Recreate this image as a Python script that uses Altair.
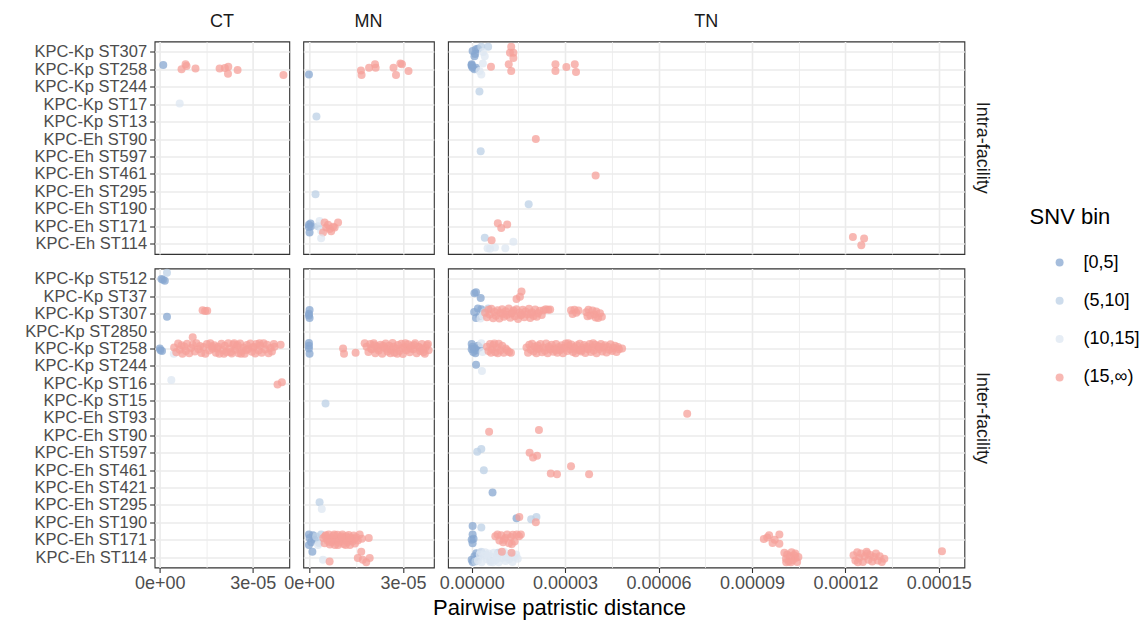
import altair as alt
import pandas as pd

FONT = "Liberation Sans"
BINS = ["[0,5]", "(5,10]", "(10,15]", "(15,∞)"]
BIN_COLORS = ["#87A7D0", "#BCD0E6", "#DEE7F2", "#F5A09A"]
SITES = ["CT", "MN", "TN"]
FACILITIES = ["Intra-facility", "Inter-facility"]

INTRA_CATS = ["KPC-Kp ST307", "KPC-Kp ST258", "KPC-Kp ST244", "KPC-Kp ST17", "KPC-Kp ST13",
              "KPC-Eh ST90", "KPC-Eh ST597", "KPC-Eh ST461", "KPC-Eh ST295", "KPC-Eh ST190",
              "KPC-Eh ST171", "KPC-Eh ST114"]
INTER_CATS = ["KPC-Kp ST512", "KPC-Kp ST37", "KPC-Kp ST307", "KPC-Kp ST2850", "KPC-Kp ST258",
              "KPC-Kp ST244", "KPC-Kp ST16", "KPC-Kp ST15", "KPC-Eh ST93", "KPC-Eh ST90",
              "KPC-Eh ST597", "KPC-Eh ST461", "KPC-Eh ST421", "KPC-Eh ST295", "KPC-Eh ST190",
              "KPC-Eh ST171", "KPC-Eh ST114"]

# x domains (free x per column) and tick values
X_DOMAIN = {"CT": [-1.7e-6, 41.8e-6], "MN": [-1.8e-6, 39.9e-6], "TN": [-7.6e-6, 158.2e-6]}
X_MAJOR = {"CT": [0, 3e-5], "MN": [0, 3e-5], "TN": [0, 3e-5, 6e-5, 9e-5, 1.2e-4, 1.5e-4]}
X_MINOR = {"CT": [1.5e-5], "MN": [1.5e-5], "TN": [1.5e-5, 4.5e-5, 7.5e-5, 1.05e-4, 1.35e-4]}

# points: (category, SNV bin index, distance in 1e-6, vertical jitter in category units)
ct_intra = [
    ("KPC-Kp ST258", 0, [(1.1, 0.25)]),
    ("KPC-Kp ST258", 3, [(7.0, 0.0), (8.3, 0.3), (8.6, 0.2), (11.5, 0.05), (19.3, 0.05), (22.1, 0.15),
                         (22.0, -0.25), (25.1, -0.04), (21.0, 0.08), (39.9, -0.33)]),
    ("KPC-Kp ST17", 2, [(6.4, 0.04)]),
]

mn_intra = [
    ("KPC-Kp ST258", 0, [(0.0, -0.29)]),
    ("KPC-Kp ST258", 3, [(16.6, -0.06), (16.8, -0.33), (19.2, 0.09), (21.1, 0.29), (21.3, 0.09), (27.0, 0.09),
                         (29.2, 0.34), (29.7, 0.3), (27.8, -0.33), (31.8, -0.1)]),
    ("KPC-Kp ST13", 1, [(2.4, 0.29)]),
    ("KPC-Eh ST295", 1, [(2.1, -0.17)]),
    ("KPC-Eh ST171", 0, [(0.0, 0.08), (0.7, 0.0), (0.2, -0.36), (0.5, 0.15), (0.0, -0.05)]),
    ("KPC-Eh ST171", 1, [(2.9, 0.0)]),
    ("KPC-Eh ST171", 2, [(3.4, 0.3), (3.9, -0.27)]),
    ("KPC-Eh ST171", 3, [(5.0, 0.21), (5.5, -0.08), (6.6, -0.17), (7.7, -0.04), (9.3, 0.21), (4.5, -0.36),
                         (7.1, -0.3), (8.2, -0.08), (6.1, 0.08)]),
    ("KPC-Eh ST114", 2, [(3.9, 0.3)]),
]

tn_intra = [
    ("KPC-Kp ST307", 0, [(0.3, 0.06), (1.4, 0.15), (2.0, 0.19), (0.9, -0.25), (1.1, -0.12)]),
    ("KPC-Kp ST307", 1, [(3.1, 0.3), (5.3, 0.3)]),
    ("KPC-Kp ST307", 2, [(4.2, -0.25), (3.6, 0.0)]),
    ("KPC-Kp ST307", 3, [(12.7, 0.3), (12.3, -0.04), (13.4, -0.04), (13.4, -0.35)]),
    ("KPC-Kp ST258", 0, [(0.0, 0.3), (0.0, 0.19), (0.3, 0.1), (0.9, 0.0), (0.0, 0.25), (1.4, 0.1)]),
    ("KPC-Kp ST258", 2, [(3.1, -0.3), (2.5, -0.1), (3.6, 0.33)]),
    ("KPC-Kp ST258", 3, [(6.2, 0.15), (11.9, 0.3), (12.7, -0.1), (26.9, 0.3), (26.9, -0.1), (30.4, 0.13),
                         (33.1, 0.3), (33.5, -0.15)]),
    ("KPC-Kp ST244", 1, [(2.5, -0.27)]),
    ("KPC-Eh ST90", 3, [(20.6, 0.0)]),
    ("KPC-Eh ST597", 1, [(2.9, 0.3)]),
    ("KPC-Eh ST461", 3, [(39.8, -0.1)]),
    ("KPC-Eh ST190", 1, [(18.3, 0.25)]),
    ("KPC-Eh ST171", 3, [(8.4, 0.17), (9.5, -0.11), (11.4, 0.1)]),
    ("KPC-Eh ST114", 1, [(4.2, 0.34)]),
    ("KPC-Eh ST114", 2, [(13.4, 0.11), (5.1, -0.27), (7.5, -0.23), (10.8, -0.27), (5.9, -0.3)]),
    ("KPC-Eh ST114", 3, [(6.4, 0.19), (122.4, 0.38), (126.0, 0.29), (125.1, -0.1)]),
]

ct_inter = [
    ("KPC-Kp ST512", 0, [(0.5, 0.0), (1.6, -0.1), (1.0, -0.05)]),
    ("KPC-Kp ST512", 1, [(2.3, 0.35)]),
    ("KPC-Kp ST307", 0, [(2.3, -0.17)]),
    ("KPC-Kp ST307", 3, [(13.8, 0.2), (15.3, 0.17), (14.6, 0.15)]),
    ("KPC-Kp ST2850", 3, [(10.6, -0.35)]),
    ("KPC-Kp ST258", 0, [(0.2, -0.1), (0.7, -0.15), (0.0, 0.0)]),
    ("KPC-Kp ST258", 2, [(4.5, -0.3)]),
    ("KPC-Kp ST258", 3, [
        (4.6, 0.05), (5.3, -0.22), (5.9, 0.28), (6.4, -0.08), (7.0, 0.18), (7.3, -0.3), (7.9, 0.12), (8.4, -0.15),
        (8.8, 0.27), (9.5, -0.28), (10.1, 0.02), (10.6, 0.22), (11.3, -0.18), (11.8, 0.3), (12.5, -0.05),
        (13.0, 0.14), (13.4, -0.26), (14.1, 0.08), (14.7, -0.3), (15.2, 0.25), (15.9, -0.12), (16.3, 0.3),
        (17.0, -0.02), (17.6, 0.19), (18.1, -0.25), (18.8, 0.1), (19.2, -0.3), (19.9, 0.27), (20.4, -0.1),
        (21.0, 0.16), (21.5, -0.21), (22.1, 0.3), (22.6, 0.0), (23.2, -0.29), (23.7, 0.23), (24.3, -0.07),
        (24.8, 0.12), (25.4, -0.27), (25.9, 0.29), (26.5, -0.14), (27.0, 0.06), (27.4, -0.3), (28.1, 0.2),
        (28.6, -0.03), (29.2, 0.28), (29.7, -0.19), (30.3, 0.09), (30.8, -0.29), (31.2, 0.26), (31.9, -0.11),
        (32.4, 0.15), (32.9, -0.24), (33.5, 0.3), (34.0, -0.06), (34.6, 0.21), (35.1, -0.28), (35.7, 0.03),
        (36.2, -0.17), (36.8, 0.25), (37.0, 0.1), (22.9, -0.2), (25.1, 0.2), (27.8, -0.1), (30.0, 0.05),
        (18.5, 0.0), (20.7, -0.3), (32.2, 0.3), (24.0, 0.3), (26.2, -0.3), (16.8, 0.11), (39.0, 0.21)]),
    ("KPC-Kp ST16", 2, [(3.7, 0.19)]),
    ("KPC-Kp ST16", 3, [(38.0, -0.08), (39.4, 0.06)]),
]

mn_inter = [
    ("KPC-Kp ST307", 0, [(0.2, 0.21), (0.0, 0.0), (0.2, -0.25), (0.0, -0.1)]),
    ("KPC-Kp ST258", 0, [(0.0, 0.31), (0.0, 0.0), (0.2, -0.3), (0.0, 0.15)]),
    ("KPC-Kp ST258", 3, [
        (10.9, 0.0), (11.2, -0.3), (14.9, -0.25), (17.8, 0.3),
        (18.4, 0.1), (19.0, -0.2), (19.6, 0.25), (20.1, -0.05), (20.7, 0.3), (21.2, -0.28), (21.8, 0.12),
        (22.3, -0.12), (22.9, 0.22), (23.4, -0.3), (24.0, 0.05), (24.5, 0.28), (25.1, -0.18), (25.6, 0.15),
        (26.2, -0.08), (26.7, 0.32), (27.3, -0.25), (27.8, 0.0), (28.4, 0.2), (28.9, -0.15), (29.5, 0.27),
        (30.0, -0.32), (30.6, 0.08), (31.1, -0.1), (31.7, 0.24), (32.2, -0.22), (32.8, 0.14), (33.3, -0.04),
        (33.9, 0.3), (34.4, -0.27), (35.0, 0.1), (35.5, -0.14), (36.1, 0.26), (36.6, -0.2), (37.2, 0.04),
        (37.7, 0.18), (38.2, -0.1), (19.8, 0.0), (22.0, 0.0), (24.8, -0.02), (27.0, 0.1), (29.9, 0.02),
        (32.5, 0.0), (35.3, 0.05), (37.0, -0.3), (21.0, 0.18), (23.7, 0.15), (26.0, -0.28), (28.2, -0.3),
        (30.8, 0.3), (33.6, 0.2), (36.3, -0.05), (38.0, 0.25)]),
    ("KPC-Kp ST15", 1, [(5.3, -0.17)]),
    ("KPC-Eh ST295", 1, [(3.4, 0.15)]),
    ("KPC-Eh ST295", 2, [(4.1, -0.23)]),
    ("KPC-Eh ST171", 0, [(0.0, 0.3), (0.2, 0.1), (0.7, -0.15), (0.0, -0.3), (1.3, 0.25), (1.8, 0.0)]),
    ("KPC-Eh ST171", 1, [(2.3, 0.19), (3.2, -0.19), (3.9, 0.3)]),
    ("KPC-Eh ST171", 2, [(2.9, -0.3)]),
    ("KPC-Eh ST171", 3, [
        (4.6, 0.1), (5.0, -0.2), (5.4, 0.25), (5.9, -0.05), (6.3, 0.3), (6.7, -0.28), (7.1, 0.12), (7.5, -0.12),
        (7.9, 0.22), (8.3, -0.3), (8.7, 0.05), (9.1, 0.28), (9.5, -0.18), (9.9, 0.15), (10.3, -0.08),
        (10.7, 0.3), (11.1, -0.25), (11.5, 0.0), (11.9, 0.2), (12.3, -0.15), (12.7, 0.27), (13.1, -0.3),
        (13.5, 0.08), (13.9, -0.1), (14.3, 0.24), (14.7, -0.22), (15.1, 0.14), (15.6, -0.04), (16.2, 0.3),
        (16.9, 0.05), (6.0, 0.05), (7.3, 0.0), (8.5, -0.02), (9.7, 0.02), (10.9, 0.1), (12.1, -0.02),
        (13.3, 0.0), (14.5, 0.05), (5.2, 0.2), (6.9, -0.15), (8.1, 0.3), (9.3, -0.3), (10.5, 0.2),
        (11.7, -0.3), (12.9, 0.12), (19.1, 0.1)]),
    ("KPC-Eh ST114", 0, [(1.1, 0.3)]),
    ("KPC-Eh ST114", 2, [(4.5, -0.15)]),
    ("KPC-Eh ST114", 3, [(6.6, -0.25), (16.7, 0.3), (15.6, -0.06), (17.2, -0.15), (19.4, -0.06), (18.3, -0.3)]),
]

tn_inter = [
    ("KPC-Kp ST37", 0, [(0.9, 0.17), (1.4, 0.23), (2.9, -0.1)]),
    ("KPC-Kp ST37", 3, [(16.0, 0.27), (14.4, -0.15), (15.5, -0.02)]),
    ("KPC-Kp ST307", 0, [(2.0, 0.3), (3.1, 0.25), (1.4, -0.25), (2.5, -0.15), (0.8, 0.1)]),
    ("KPC-Kp ST307", 1, [(5.3, 0.3), (4.0, 0.1)]),
    ("KPC-Kp ST307", 2, [(3.6, -0.1), (2.8, -0.28)]),
    ("KPC-Kp ST307", 3, [
        (4.3, 0.05), (4.9, -0.2), (5.4, 0.22), (5.8, -0.05), (6.3, 0.28), (6.9, -0.26), (7.4, 0.1), (7.8, -0.12),
        (8.3, 0.2), (8.9, -0.28), (9.3, 0.04), (9.8, 0.25), (10.4, -0.17), (10.9, 0.14), (11.3, -0.07),
        (11.9, 0.3), (12.4, -0.23), (12.8, 0.0), (13.4, 0.19), (13.9, -0.14), (14.4, 0.26), (14.9, -0.3),
        (15.4, 0.07), (15.8, -0.09), (16.4, 0.23), (16.9, -0.2), (17.3, 0.13), (17.9, -0.03), (18.4, 0.28),
        (18.8, -0.25), (19.4, 0.09), (19.9, -0.13), (20.4, 0.24), (20.9, -0.18), (21.3, 0.03), (21.9, 0.17),
        (22.5, -0.08), (23.1, 0.2), (23.8, 0.25), (24.6, 0.22), (25.2, 0.24), (10.1, 0.0), (13.1, 0.05),
        (16.1, -0.05), (19.1, 0.0),
        (31.9, 0.2), (32.4, -0.02), (33.0, 0.22), (33.6, 0.05), (34.3, 0.18), (36.8, 0.08), (37.5, 0.22),
        (38.1, -0.1), (38.8, 0.18), (39.4, -0.05), (40.0, 0.12), (40.6, -0.25), (41.2, 0.03), (41.8, -0.18),
        (37.2, -0.15), (39.8, -0.22)]),
    ("KPC-Kp ST258", 0, [(0.0, 0.25), (0.3, 0.1), (0.8, 0.0), (1.5, -0.1), (0.5, -0.2), (2.0, 0.15), (1.2, -0.28),
                         (0.0, -0.05), (2.5, 0.05)]),
    ("KPC-Kp ST258", 2, [(3.1, 0.3), (3.5, -0.2)]),
    ("KPC-Kp ST258", 3, [
        (4.9, 0.1), (5.4, -0.15), (5.9, 0.25), (6.5, -0.05), (7.0, 0.2), (7.6, -0.22), (8.1, 0.05), (8.7, 0.27),
        (9.2, -0.12), (9.8, 0.15), (10.3, -0.25), (10.9, 0.0), (11.4, -0.1), (12.0, -0.2), (12.6, -0.25),
        (6.2, -0.25), (7.3, 0.28), (8.4, -0.28),
        (17.6, 0.05), (18.1, -0.25), (18.5, 0.22), (19.0, -0.08), (19.4, 0.27), (19.9, -0.18), (20.3, 0.1),
        (20.8, -0.28), (21.2, 0.17), (21.7, -0.02), (22.1, 0.25), (22.6, -0.22), (23.0, 0.06), (23.5, -0.13),
        (23.9, 0.28), (24.4, -0.27), (24.8, 0.12), (25.3, -0.06), (25.7, 0.21), (26.2, -0.19), (26.6, 0.0),
        (27.1, 0.26), (27.5, -0.24), (28.0, 0.09), (28.4, -0.1), (28.9, 0.19), (29.3, -0.28), (29.8, 0.04),
        (30.2, 0.28), (30.7, -0.15), (31.1, 0.14), (31.6, -0.04), (32.0, 0.23), (32.5, -0.21), (32.9, 0.08),
        (33.4, -0.27), (33.8, 0.18), (34.3, -0.09), (34.7, 0.27), (35.2, -0.17), (35.6, 0.02), (36.1, 0.2),
        (36.5, -0.26), (37.0, 0.11), (37.4, -0.05), (37.9, 0.25), (38.3, -0.2), (38.8, 0.07), (39.2, -0.12),
        (39.7, 0.22), (40.1, -0.27), (40.6, 0.13), (41.0, -0.03), (41.5, 0.26), (41.9, -0.18), (42.4, 0.05),
        (42.8, 0.19), (43.3, -0.23), (43.7, 0.1), (44.2, -0.08), (44.6, 0.24), (45.1, -0.15), (45.5, 0.03),
        (46.0, 0.16), (46.5, -0.2), (47.0, 0.08), (47.3, -0.05), (48.3, 0.0), (21.0, 0.0), (25.0, 0.0),
        (29.0, 0.0), (33.0, 0.0), (37.0, 0.0), (41.0, 0.1), (27.0, -0.1), (35.0, -0.1), (31.0, 0.3), (39.0, 0.3)]),
    ("KPC-Kp ST244", 0, [(1.4, 0.06)]),
    ("KPC-Kp ST244", 2, [(3.3, -0.3)]),
    ("KPC-Eh ST93", 3, [(69.2, 0.25)]),
    ("KPC-Eh ST90", 3, [(5.6, 0.21), (21.6, 0.31)]),
    ("KPC-Eh ST597", 1, [(1.8, 0.06), (3.1, 0.21)]),
    ("KPC-Eh ST597", 3, [(18.6, 0.0), (19.7, -0.27), (21.0, -0.17)]),
    ("KPC-Eh ST461", 1, [(3.9, 0.0)]),
    ("KPC-Eh ST461", 3, [(31.9, 0.23), (25.4, -0.19), (27.4, -0.23), (37.7, -0.23)]),
    ("KPC-Eh ST421", 0, [(6.7, -0.29)]),
    ("KPC-Eh ST190", 0, [(0.3, -0.21), (14.4, 0.23)]),
    ("KPC-Eh ST190", 1, [(3.1, -0.3), (19.1, 0.17), (20.8, 0.3)]),
    ("KPC-Eh ST190", 3, [(15.3, 0.3), (20.6, 0.0)]),
    ("KPC-Eh ST171", 0, [(0.3, 0.3), (0.0, 0.0), (0.3, -0.2), (0.6, 0.05)]),
    ("KPC-Eh ST171", 3, [
        (7.6, 0.2), (8.3, 0.3), (8.9, -0.05), (9.5, 0.25), (10.1, -0.15), (10.8, 0.1), (11.4, 0.3), (12.0, -0.2),
        (12.6, 0.15), (13.2, 0.28), (13.8, -0.1), (14.5, 0.3), (15.2, 0.2), (15.8, 0.3), (10.4, 0.0),
        (12.9, -0.25),
        (93.8, 0.04), (95.5, 0.25), (98.8, 0.3), (96.6, -0.19), (98.8, -0.23), (94.9, 0.12), (97.3, 0.0)]),
    ("KPC-Eh ST114", 0, [(0.0, -0.15), (0.9, 0.05), (2.0, 0.0), (3.1, 0.27), (1.5, 0.22), (0.3, -0.28)]),
    ("KPC-Eh ST114", 1, [(4.5, 0.1), (6.0, -0.2), (8.5, 0.25), (1.2, -0.25)]),
    ("KPC-Eh ST114", 2, [
        (2.0, -0.2), (2.6, 0.15), (3.2, -0.3), (3.7, 0.05), (4.3, 0.28), (4.9, -0.12), (5.4, 0.2), (6.0, -0.28),
        (6.5, 0.0), (7.1, 0.25), (7.6, -0.18), (8.2, 0.1), (8.7, -0.3), (9.3, 0.18), (9.8, -0.05), (10.4, 0.3),
        (10.9, -0.22), (11.5, 0.08), (12.0, -0.12), (12.6, 0.22), (13.1, -0.28), (13.7, 0.0), (14.3, 0.15),
        (14.8, -0.1), (5.0, 0.1), (8.0, -0.1), (11.0, 0.0), (3.0, 0.3), (6.8, -0.3)]),
    ("KPC-Eh ST114", 3, [
        (9.7, 0.3), (12.8, 0.25),
        (100.4, 0.25), (100.9, -0.1), (101.3, 0.15), (101.8, -0.25), (102.2, 0.05), (102.7, 0.28),
        (103.1, -0.18), (103.6, 0.1), (104.0, -0.05), (104.5, -0.28), (104.9, 0.0), (101.0, -0.3),
        (102.5, -0.3), (103.9, 0.2),
        (122.6, 0.1), (123.2, -0.2), (123.8, 0.28), (124.4, -0.05), (125.0, 0.2), (125.6, -0.28),
        (126.2, 0.05), (126.8, 0.3), (127.4, -0.15), (128.0, 0.12), (128.6, -0.25), (129.2, 0.0),
        (129.8, 0.2), (130.4, -0.2), (131.0, 0.05), (131.7, -0.28), (132.5, -0.1), (124.0, -0.3),
        (127.0, 0.2), (151.0, 0.33)]),
]

PANEL_DATA = {
    ("CT", "Intra-facility"): ct_intra, ("MN", "Intra-facility"): mn_intra, ("TN", "Intra-facility"): tn_intra,
    ("CT", "Inter-facility"): ct_inter, ("MN", "Inter-facility"): mn_inter, ("TN", "Inter-facility"): tn_inter,
}

# ---- layout / style ----
PANEL_W = {"CT": 134.7, "MN": 130.6, "TN": 516.4}
PANEL_H = {"Intra-facility": 212.5, "Inter-facility": 299}
GRID = "#EBEBEB"
MINOR_TEST = "abs(datum.value / 0.00003 - round(datum.value / 0.00003)) > 0.25"
POINT_OPACITY = 0.75
Y_LABEL_SIZE = 16.5

LEGEND = alt.Legend(
    title="SNV bin", orient="none", legendX=875, legendY=165,
    titleFont=FONT, titleFontSize=22, titleFontWeight="normal", titleColor="black", titlePadding=25,
    labelFont=FONT, labelFontSize=18, labelColor="black", labelOffset=15,
    symbolType="circle", symbolSize=64, symbolOpacity=POINT_OPACITY, symbolStrokeWidth=0, symbolOffset=21,
    rowPadding=20.3,
)


def build_df(items, site, fac):
    cats = INTRA_CATS if fac == "Intra-facility" else INTER_CATS
    n = len(cats)
    rows = []
    for cat, b, pts in items:
        pos = n - cats.index(cat)
        for x, dy in pts:
            rows.append({"site": site, "facility": fac, "cat": cat, "bin": BINS[b],
                         "x": x * 1e-6, "y": pos + dy})
    return pd.DataFrame(rows)


def make_panel(site, fac):
    cats = INTRA_CATS if fac == "Intra-facility" else INTER_CATS
    n = len(cats)
    sub = build_df(PANEL_DATA[(site, fac)], site, fac)
    bottom = fac == "Inter-facility"
    left = site == "CT"
    w, h = PANEL_W[site], PANEL_H[fac]

    if site == "TN":
        lbl = "format(datum.value, '.5f')"
    else:
        lbl = "replace(replace(format(datum.value, '.0e'), 'e-', 'e-0'), 'e+', 'e+0')"
    xk = dict(values=X_MAJOR[site] + X_MINOR[site], grid=True, domain=False, title=None,
              gridColor=GRID,
              gridWidth={"condition": {"test": MINOR_TEST, "value": 0.8}, "value": 1.6},
              labelFlush=False, labelOverlap=False)
    if bottom:
        xk.update(labels=True, ticks=True, labelExpr=f"({MINOR_TEST}) ? '' : {lbl}",
                  tickOpacity={"condition": {"test": MINOR_TEST, "value": 0}, "value": 1},
                  tickSize=5, labelPadding=2)
    else:
        xk.update(labels=False, ticks=False)

    arr = "[" + ",".join(f"'{c}'" for c in reversed(cats)) + "]"
    yk = dict(values=list(range(1, n + 1)), grid=True, gridColor=GRID, gridWidth=1.6,
              domain=False, title=None, labels=left, ticks=left, tickSize=5,
              labelExpr=f"{arr}[datum.value - 1]", labelPadding=3, labelFontSize=Y_LABEL_SIZE,
              labelOverlap=False, labelFlush=False, labelBound=False)

    pts = alt.Chart(sub).mark_circle(size=64, opacity=POINT_OPACITY).encode(
        x=alt.X("x:Q", scale=alt.Scale(domain=X_DOMAIN[site], nice=False, zero=False), axis=alt.Axis(**xk)),
        y=alt.Y("y:Q", scale=alt.Scale(domain=[0.4, n + 0.6], nice=False, zero=False), axis=alt.Axis(**yk)),
        color=alt.Color("bin:N", scale=alt.Scale(domain=BINS, range=BIN_COLORS), legend=LEGEND),
    )
    layers = [pts]
    if not bottom:
        layers.append(
            alt.Chart(pd.DataFrame({"t": [site]})).mark_text(
                font=FONT, fontSize=18, color="#1A1A1A", align="center", baseline="middle"
            ).encode(text="t:N", x=alt.value(w / 2), y=alt.value(-20))
        )
    if site == "TN":
        layers.append(
            alt.Chart(pd.DataFrame({"t": [fac]})).mark_text(
                font=FONT, fontSize=18, color="#1A1A1A", align="center", baseline="middle", angle=90
            ).encode(text="t:N", x=alt.value(w + 18), y=alt.value(h / 2))
        )
        if bottom:
            layers.append(
                alt.Chart(pd.DataFrame({"t": ["Pairwise patristic distance"]})).mark_text(
                    font=FONT, fontSize=22, color="black", align="center", baseline="middle"
                ).encode(text="t:N", x=alt.value(111.5), y=alt.value(h + 41))
            )
    return alt.layer(*layers).properties(width=w, height=h)


panels = [make_panel(s, f) for f in FACILITIES for s in SITES]

chart = alt.concat(
    *panels, columns=3, spacing={"row": 14, "column": 13.7}, bounds="flush"
).properties(
    padding={"left": 23.6, "top": 11.5, "right": 5, "bottom": 5}, background="white"
).configure_view(
    stroke="#333333", strokeWidth=1.1
).configure_axis(
    labelFont=FONT, labelFontSize=18, labelColor="#4D4D4D", tickColor="#333333", tickWidth=1.1
)

chart.save("out.html", embed_options={"renderer": "svg", "actions": False})
